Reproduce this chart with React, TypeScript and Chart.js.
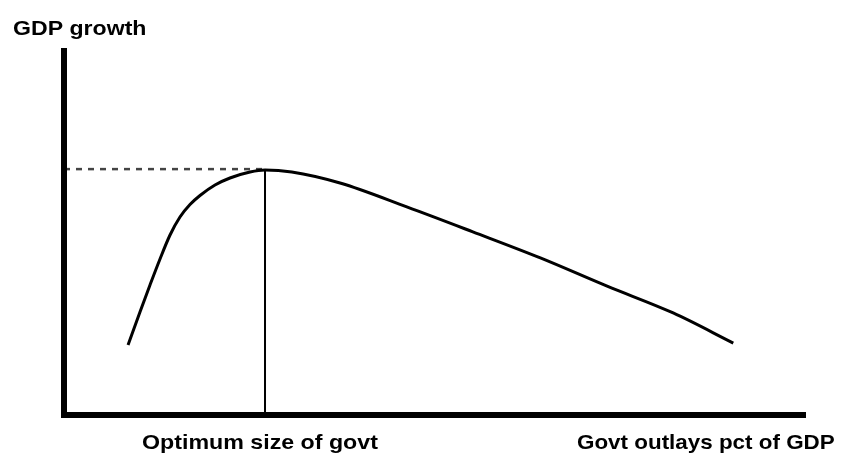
import React, { useEffect, useRef } from "react";
import { Chart, registerables } from "chart.js";

Chart.register(...registerables);

// Curve: GDP growth vs government outlays (arbitrary 0-100 units)
const outlays = [8.63, 10.24, 11.59, 12.94, 14.29, 15.63, 16.98, 18.33, 20.35, 22.37, 25.07, 27.09, 30.7, 37.2, 46.2, 55.1, 64.2, 73.2, 82.1, 90.2];
const growth = [19.07, 28.07, 35.42, 42.51, 49.05, 53.95, 57.36, 59.81, 62.67, 64.58, 66.21, 66.76, 66.2, 63.2, 56.7, 49.9, 42.8, 35.1, 27.8, 19.6];

const optimumX = 27.09;
const optimumY = 67.0;
const xMax = 100;
const yMax = 100;

const yAxisLabel = "GDP growth";
const optimumLabel = "Optimum size of govt";
const xAxisLabel = "Govt outlays pct of GDP";

const axesAndLabels = {
  id: "axesAndLabels",
  afterDatasetsDraw(chart: any) {
    const { ctx, scales } = chart;
    const x = scales.x;
    const y = scales.y;
    const x0 = x.getPixelForValue(0);
    const x1 = x.getPixelForValue(xMax);
    const y0 = y.getPixelForValue(0);
    const y1 = y.getPixelForValue(yMax);
    ctx.save();
    ctx.strokeStyle = "#000";
    ctx.lineWidth = 6;
    ctx.lineCap = "butt";
    ctx.lineJoin = "miter";
    ctx.beginPath();
    ctx.moveTo(x0, y1);
    ctx.lineTo(x0, y0);
    ctx.lineTo(x1, y0);
    ctx.stroke();

    ctx.fillStyle = "#000";
    ctx.font = "bold 21px 'Liberation Sans', Arial, sans-serif";
    ctx.textBaseline = "alphabetic";
    ctx.textAlign = "left";
    const drawText = (t: string, px: number, py: number, sx: number) => {
      ctx.save();
      ctx.translate(px, py);
      ctx.scale(sx, 1);
      ctx.fillText(t, 0, 0);
      ctx.restore();
    };
    drawText(yAxisLabel, 13, 35, 1.1);
    drawText(optimumLabel, 142, 449, 1.105);
    drawText(xAxisLabel, 577, 449, 1.067);
    ctx.restore();
  },
};

export default function App() {
  const ref = useRef<HTMLCanvasElement>(null);
  useEffect(() => {
    if (!ref.current) return;
    const chart = new Chart(ref.current, {
      type: "scatter",
      data: {
        datasets: [
          {
            label: "curve",
            data: outlays.map((v, i) => ({ x: v, y: growth[i] })),
            showLine: true,
            borderColor: "#000",
            borderWidth: 3,
            pointRadius: 0,
            cubicInterpolationMode: "monotone",
            clip: false,
          } as any,
          {
            label: "dashed",
            data: [
              { x: 0, y: optimumY },
              { x: optimumX, y: optimumY },
            ],
            showLine: true,
            borderColor: "#444",
            borderWidth: 2.5,
            borderDash: [6, 6],
            pointRadius: 0,
            clip: false,
          } as any,
          {
            label: "vertical",
            data: [
              { x: optimumX, y: optimumY },
              { x: optimumX, y: 0 },
            ],
            showLine: true,
            borderColor: "#000",
            borderWidth: 2,
            pointRadius: 0,
            clip: false,
          } as any,
        ],
      },
      options: {
        responsive: false,
        animation: false,
        layout: { padding: { left: 64, right: 42, top: 48, bottom: 55 } },
        plugins: { legend: { display: false }, tooltip: { enabled: false } },
        scales: {
          x: { type: "linear", min: 0, max: xMax, display: false },
          y: { type: "linear", min: 0, max: yMax, display: false },
        },
      },
      plugins: [axesAndLabels],
    });
    return () => chart.destroy();
  }, []);
  return (
    <div style={{ position: "fixed", left: 0, top: 0, width: 848, height: 470, background: "#fff" }}>
      <canvas ref={ref} width={848} height={470} />
    </div>
  );
}
